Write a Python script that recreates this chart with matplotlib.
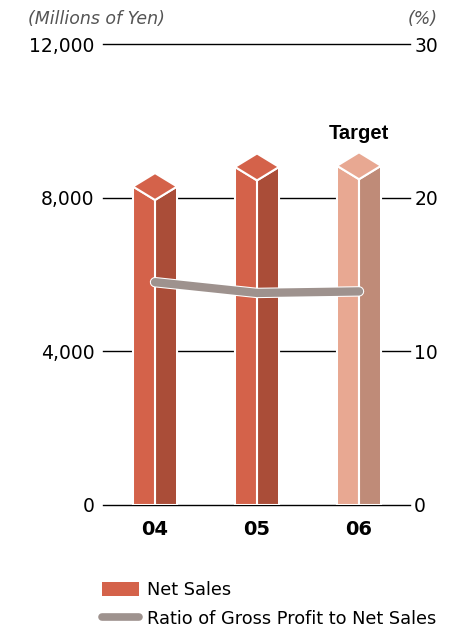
import matplotlib.pyplot as plt
from matplotlib.patches import Polygon, Patch
from matplotlib.lines import Line2D
import matplotlib.patheffects as pe

plt.rcParams['font.family'] = ['DejaVu Sans']

# Net sales (millions of yen) and gross profit ratio (%)
years = ['04', '05', '06']
net_sales = [8290, 8800, 8830]
gross_ratio = [14.5, 13.8, 13.9]
is_target = [False, False, True]

face_colors = {False: ('#d4624a', '#aa4d38'), True: ('#e8a892', '#bf8b78')}
line_color = '#9e928e'

fig = plt.figure(figsize=(4.73, 6.28), dpi=100)
ax = fig.add_axes([103 / 473, 1 - 505 / 628, 307 / 473, 461 / 628])

ax.set_xlim(-0.51, 2.5)
ax.set_ylim(0, 12000)
ax.set_yticks([0, 4000, 8000, 12000])
ax.set_yticklabels([f'{v:,}' for v in [0, 4000, 8000, 12000]])
ax.set_xticks(range(len(years)))
ax.set_xticklabels(years, fontweight='bold')
ax.tick_params(axis='y', length=0, pad=6, labelsize=13.5)
ax.tick_params(axis='x', length=0, pad=11, labelsize=14)
ax.yaxis.grid(True, color='black', lw=1)
for g in ax.get_ygridlines():
    g.set_clip_on(False)
ax.set_axisbelow(True)
for s in ax.spines.values():
    s.set_visible(False)

# prism-style columns: left face, right face and a diamond top
w = 0.216
d = 350
for i, (v, tgt) in enumerate(zip(net_sales, is_target)):
    front, side = face_colors[tgt]
    left = [(i - w, 0), (i, 0), (i, v - d), (i - w, v)]
    right = [(i, 0), (i + w, 0), (i + w, v), (i, v - d)]
    top = [(i - w, v), (i, v - d), (i + w, v), (i, v + d)]
    for pts, c in [(left, front), (right, side), (top, front)]:
        ax.add_patch(Polygon(pts, closed=True, facecolor=c, edgecolor='white',
                             lw=1.5, zorder=2))
    if tgt:
        ax.annotate('Target', (i, v + d), xytext=(0, 7), textcoords='offset points',
                    ha='center', va='bottom', fontsize=14.5, fontweight='bold',
                    family=['Liberation Sans', 'DejaVu Sans'])

ax2 = ax.twinx()
ax2.set_ylim(0, 30)
ax2.set_yticks([0, 10, 20, 30])
ax2.tick_params(axis='y', length=0, pad=3, labelsize=13.5)
for s in ax2.spines.values():
    s.set_visible(False)
ax2.plot(range(len(years)), gross_ratio, color=line_color, lw=6,
         solid_capstyle='round', solid_joinstyle='round', zorder=3,
         path_effects=[pe.Stroke(linewidth=7.5, foreground='white'), pe.Normal()])

fig.text(28 / 473, 1 - 19 / 628, '(Millions of Yen)', ha='left', va='center',
         fontsize=12.5, style='italic', color='#555555')
fig.text(438 / 473, 1 - 19 / 628, '(%)', ha='right', va='center',
         fontsize=12.5, style='italic', color='#555555')

handles = [Patch(facecolor=face_colors[False][0], edgecolor='none'),
           Line2D([], [], color=line_color, lw=5.5, solid_capstyle='round')]
fig.legend(handles, ['Net Sales', 'Ratio of Gross Profit to Net Sales'],
           loc='upper left', bbox_to_anchor=(102 / 473, 1 - 581 / 628),
           frameon=False, fontsize=12.8, handlelength=2.1, handleheight=0.8,
           handletextpad=0.45, labelspacing=0.6, borderaxespad=0, borderpad=0)

fig.savefig('out.png', dpi=100)
